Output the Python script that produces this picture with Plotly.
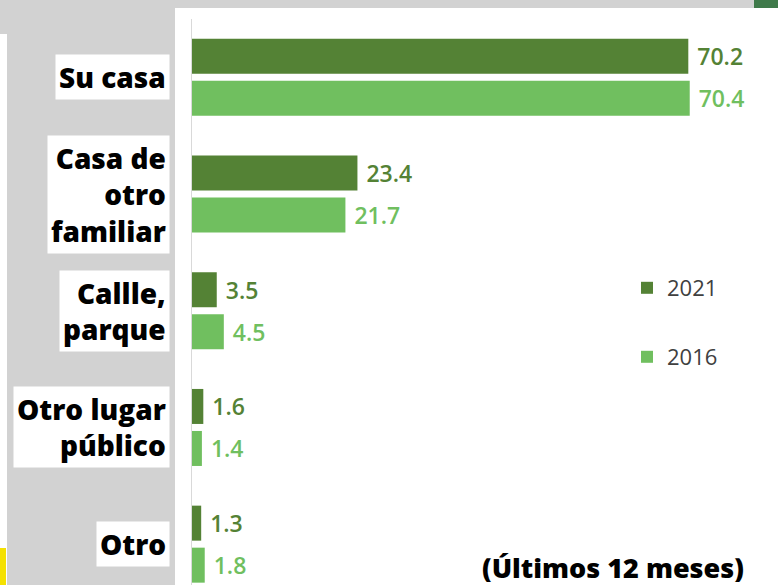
import plotly.graph_objects as go

categories = ["Su casa", "Casa de<br>otro<br>familiar", "Callle,<br>parque", "Otro lugar<br>público", "Otro"]
series_names = ["2021", "2016"]
values_2021 = [70.2, 23.4, 3.5, 1.6, 1.3]
values_2016 = [70.4, 21.7, 4.5, 1.4, 1.8]
subtitle = "(Últimos 12 meses)"

dark = "#548235"
light = "#70BF5F"

W, H = 778, 585
L, T = 192, 19
pw, ph = W - L, H - T

def px_x(x):
    return (x - L) / pw

def px_y(y):
    return (H - y) / ph

fig = go.Figure()
fig.add_trace(go.Bar(
    y=categories, x=values_2021, orientation="h", name=series_names[0],
    marker=dict(color=dark, line=dict(width=0)),
    texttemplate="\u00a0%{x:.1f}", textposition="outside", cliponaxis=False,
    constraintext="none",
    textfont=dict(family="Open Sans", size=23, color=dark, weight=600),
    legend="legend",
))
fig.add_trace(go.Bar(
    y=categories, x=values_2016, orientation="h", name=series_names[1],
    marker=dict(color=light, line=dict(width=0)),
    texttemplate="\u00a0%{x:.1f}", textposition="outside", cliponaxis=False,
    constraintext="none",
    textfont=dict(family="Open Sans", size=23, color=light, weight=600),
    legend="legend2",
))

shapes = [
    # white chart panel
    dict(type="rect", xref="paper", yref="paper", x0=px_x(175), x1=px_x(W), y0=px_y(H), y1=px_y(8),
         fillcolor="white", line=dict(width=0), layer="below"),
    # left white strip
    dict(type="rect", xref="paper", yref="paper", x0=px_x(0), x1=px_x(7), y0=px_y(H), y1=px_y(34),
         fillcolor="white", line=dict(width=0), layer="below"),
    # yellow corner
    dict(type="rect", xref="paper", yref="paper", x0=px_x(0), x1=px_x(6), y0=px_y(H), y1=px_y(548),
         fillcolor="#f5e100", line=dict(width=0), layer="below"),
    # green corner top right
    dict(type="rect", xref="paper", yref="paper", x0=px_x(754), x1=px_x(W), y0=px_y(8), y1=px_y(0),
         fillcolor="#3f7a4a", line=dict(width=0), layer="below"),
]

annotations = []
for c in categories:
    annotations.append(dict(
        xref="paper", yref="y", x=px_x(170), y=c, xanchor="right", yanchor="middle",
        text=c, showarrow=False, align="right", bgcolor="white", borderpad=3,
        font=dict(family="Open Sans", size=28, color="black", weight=800),
    ))
annotations.append(dict(
    xref="paper", yref="paper", x=px_x(613), y=px_y(567), xanchor="center", yanchor="middle",
    text=subtitle, showarrow=False,
    font=dict(family="Open Sans", size=27, color="black", weight=800),
))

legend_common = dict(
    bgcolor="rgba(0,0,0,0)", borderwidth=0, xanchor="left", yanchor="middle",
    font=dict(family="Open Sans", size=22, color="#404040"),
)

fig.update_layout(
    width=W, height=H,
    margin=dict(l=L, r=0, t=T, b=0, pad=0),
    paper_bgcolor="#d2d2d2",
    plot_bgcolor="rgba(0,0,0,0)",
    barmode="group",
    bargap=0.28,
    bargroupgap=0.167,
    showlegend=True,
    legend=dict(x=px_x(627), y=px_y(288), **legend_common),
    legend2=dict(x=px_x(627), y=px_y(357), **legend_common),
    xaxis=dict(range=[0, pw / 7.07], visible=False, fixedrange=True),
    yaxis=dict(type="category", categoryorder="array", categoryarray=categories,
               range=[4.35, -0.5], showticklabels=False, ticks="",
               showline=True, linecolor="#d9d9d9", linewidth=1, showgrid=False,
               zeroline=False, fixedrange=True),
    shapes=shapes,
    annotations=annotations,
)

fig.write_html("out.html", config={"displayModeBar": False},
               post_script="document.body.style.margin='0';document.body.style.overflow='hidden';")
